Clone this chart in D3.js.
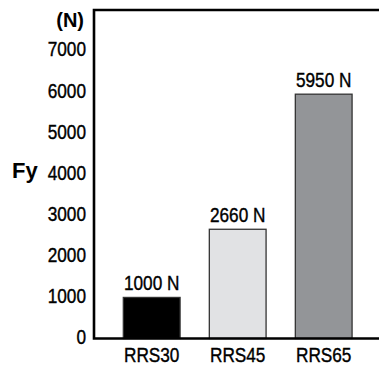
<!DOCTYPE html>
<html>
<head>
<meta charset="utf-8">
<script src="https://cdn.jsdelivr.net/npm/d3@7"></script>
<style>
  html, body { margin: 0; padding: 0; background: #fff; }
  svg { display: block; }
  text { font-family: "Liberation Sans", Arial, Helvetica, sans-serif; }
  .cond { transform-box: fill-box; transform: scaleX(0.84); stroke: #000; stroke-width: 0.4px; }
  .cond-mid { transform-origin: center; }
  .cond-end { transform-origin: right; }
</style>
</head>
<body>
<svg id="chart" width="379" height="367"></svg>
<script>
const categories = ["RRS30", "RRS45", "RRS65"];
const values = [1000, 2660, 5950];
const valueLabels = ["1000 N", "2660 N", "5950 N"];
const barColors = ["#000000", "#e1e2e4", "#939598"];
const tickValues = [0, 1000, 2000, 3000, 4000, 5000, 6000, 7000];

const svg = d3.select("#chart");
const axisX = 94, plotTop = 10, plotBottom = 338.5, plotRight = 379;
const FS = 20.5;

const y = d3.scaleLinear().domain([0, 8000]).range([plotBottom, plotTop]);
const x = d3.scaleBand().domain(categories).range([108.7, 366.7])
  .paddingInner(0.34).paddingOuter(0.17);

// bars
svg.append("g").selectAll("rect").data(categories).join("rect")
  .attr("x", d => x(d))
  .attr("y", (d, i) => y(values[i]))
  .attr("width", x.bandwidth())
  .attr("height", (d, i) => y(0) - y(values[i]))
  .attr("fill", (d, i) => barColors[i])
  .attr("stroke", "#333")
  .attr("stroke-width", 1.3);

// value labels
svg.append("g").selectAll("text").data(categories).join("text")
  .attr("class", "cond cond-mid")
  .attr("x", d => x(d) + x.bandwidth() / 2)
  .attr("y", (d, i) => y(values[i]) - 7.5)
  .attr("text-anchor", "middle")
  .attr("font-size", FS)
  .attr("fill", "#000")
  .text((d, i) => valueLabels[i]);

// y axis labels
const yAxis = d3.axisLeft(y).tickValues(tickValues).tickFormat(d3.format("d"))
  .tickSize(0).tickPadding(8);
const gy = svg.append("g").attr("transform", `translate(${axisX},0)`).call(yAxis);
gy.select(".domain").remove();
gy.attr("font-family", null);
gy.selectAll("text").attr("class", "cond cond-end")
  .attr("font-size", FS).attr("fill", "#000").attr("dy", "0.24em");

// x axis labels
const xAxis = d3.axisBottom(x).tickSize(0).tickPadding(9);
const gx = svg.append("g").attr("transform", `translate(0,${plotBottom})`).call(xAxis);
gx.select(".domain").remove();
gx.attr("font-family", null);
gx.selectAll("text").attr("class", "cond cond-mid")
  .attr("font-size", FS).attr("fill", "#000");

// frame lines
svg.append("path")
  .attr("d", `M${plotRight},${plotTop}H${axisX}V${plotBottom}H${plotRight}`)
  .attr("stroke", "#000").attr("stroke-width", 2.6).attr("fill", "none");

// unit and axis title
svg.append("text")
  .attr("x", 84).attr("y", 27).attr("text-anchor", "end")
  .attr("font-size", 20).attr("font-weight", "bold").attr("fill", "#000").text("(N)");
svg.append("text").attr("x", 12).attr("y", 178)
  .attr("font-size", 22).attr("font-weight", "bold").attr("fill", "#000").text("Fy");
</script>
</body>
</html>
